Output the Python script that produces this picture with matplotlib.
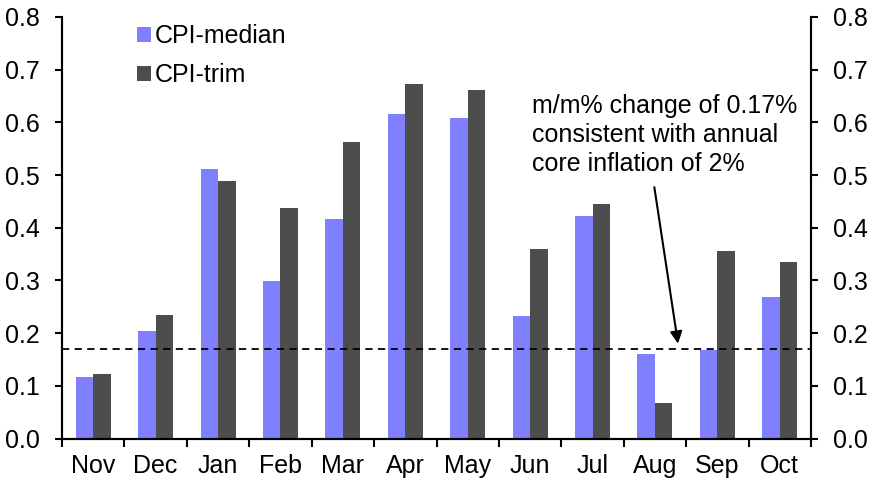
import numpy as np
import matplotlib.pyplot as plt

plt.rcParams['font.family'] = ['Liberation Sans', 'DejaVu Sans']

months = ["Nov", "Dec", "Jan", "Feb", "Mar", "Apr", "May", "Jun", "Jul", "Aug", "Sep", "Oct"]
cpi_median = [0.117, 0.204, 0.511, 0.299, 0.416, 0.615, 0.609, 0.232, 0.422, 0.160, 0.168, 0.268]
cpi_trim = [0.122, 0.234, 0.488, 0.437, 0.562, 0.672, 0.661, 0.359, 0.445, 0.067, 0.355, 0.335]
target = 0.17

W, H = 872, 482
fig = plt.figure(figsize=(W / 100, H / 100), dpi=100)
ax = fig.add_axes([62 / W, (H - 438.5) / H, (811 - 62) / W, (438.5 - 17) / H])

x = np.arange(len(months))
bw = 0.28
ax.bar(x - bw / 2, cpi_median, bw, color="#8080FF", label="CPI-median")
ax.bar(x + bw / 2, cpi_trim, bw, color="#4D4D4D", label="CPI-trim")
ax.axhline(target, color="black", linestyle=(0, (4, 3)), linewidth=1.3, zorder=3)

fs = 18
yt = np.arange(0, 0.81, 0.1)
ax.set_xlim(-0.5, len(months) - 0.5)
ax.set_ylim(0, 0.8)
ax.set_yticks(yt)
ax.set_yticklabels([f"{v:.1f}" for v in yt])
ax.set_xticks(x)
ax.set_xticklabels(months)
ax.set_xticks(np.arange(-0.5, len(months), 1), minor=True)
ax.tick_params(axis="x", which="major", length=0, pad=11, labelsize=fs)
ax.tick_params(axis="x", which="minor", length=6, width=1.5, direction="out")
ax.tick_params(axis="y", length=5, width=1.5, direction="out", labelsize=fs, pad=11)
ax.spines["top"].set_visible(False)
for s in ["left", "right", "bottom"]:
    ax.spines[s].set_linewidth(1.5)

ax2 = ax.twinx()
ax2.set_ylim(0, 0.8)
ax2.set_yticks(yt)
ax2.set_yticklabels([f"{v:.1f}" for v in yt])
ax2.tick_params(axis="y", length=5, width=1.5, direction="out", labelsize=fs, pad=11)
ax2.spines["top"].set_visible(False)
for s in ["left", "right", "bottom"]:
    ax2.spines[s].set_linewidth(1.5)

ax.legend(loc="upper left", bbox_to_anchor=(0.07, 1.037), frameon=False, fontsize=fs,
          handlelength=0.55, handleheight=0.55, handletextpad=0.15, labelspacing=0.6)

ax.text(7.03, 0.654, "m/m% change of 0.17%\nconsistent with annual\ncore inflation of 2%",
        fontsize=fs, va="top", ha="left", linespacing=1.27)
ax.annotate("", xy=(9.37, 0.18), xytext=(8.99, 0.477),
            arrowprops=dict(arrowstyle="-|>", color="black", lw=1.5, mutation_scale=18,
                            shrinkA=0, shrinkB=0))

fig.savefig("out.png", dpi=100)
